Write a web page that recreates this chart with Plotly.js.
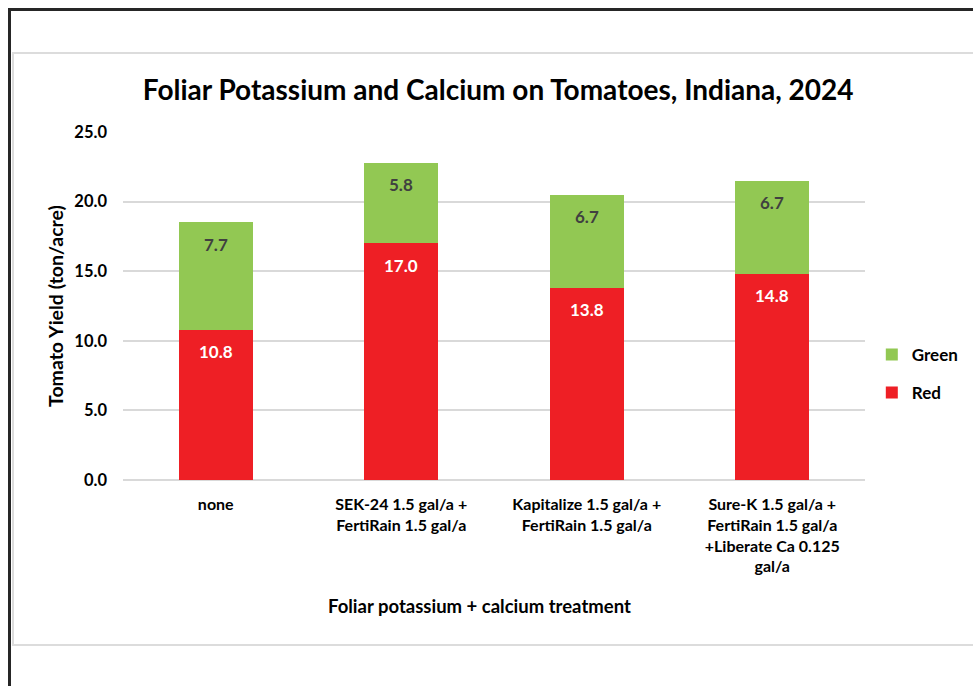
<!DOCTYPE html>
<html>
<head>
<meta charset="utf-8">
<script src="https://cdn.plot.ly/plotly-3.0.1.min.js"></script>
<style>
  html, body { margin: 0; padding: 0; background: #ffffff; }
  #wrap { position: relative; width: 973px; height: 686px; overflow: hidden; background: #ffffff; }
  #outer { position: absolute; left: 8px; top: 8px; width: 1200px; height: 1200px;
           border-left: 3px solid #262626; border-top: 3px solid #262626; box-sizing: border-box; }
  #inner { position: absolute; left: 12px; top: 52px; width: 1200px; height: 594px;
           border: 2px solid #dcdcdc; box-sizing: border-box; }
  #chart { position: absolute; left: 0; top: 0; width: 973px; height: 686px; }
</style>
</head>
<body>
<div id="wrap">
  <div id="outer"></div>
  <div id="inner"></div>
  <div id="chart"></div>
</div>
<script>
// Data
const categories = [
  "none",
  "SEK-24 1.5 gal/a +<br>FertiRain 1.5 gal/a",
  "Kapitalize 1.5 gal/a +<br>FertiRain 1.5 gal/a",
  "Sure-K 1.5 gal/a +<br>FertiRain 1.5 gal/a<br>+Liberate Ca 0.125<br>gal/a"
];
const redValues = [10.8, 17.0, 13.8, 14.8];
const greenValues = [7.7, 5.8, 6.7, 6.7];
const yTickValues = [0, 5, 10, 15, 20, 25];
const yTickLabels = ["0.0", "5.0", "10.0", "15.0", "20.0", "25.0"];

const FONT = "Lato, 'Open Sans', 'DejaVu Sans', sans-serif";

const traces = [
  {
    type: "bar", name: "Red", x: categories, y: redValues,
    marker: { color: "#EE1F25" }, legendgroup: "r", legendrank: 2,
    hoverinfo: "x+y"
  },
  {
    type: "bar", name: "Green", x: categories, y: greenValues,
    marker: { color: "#92C853" }, legendgroup: "g", legendrank: 1,
    hoverinfo: "x+y"
  }
];

// Data labels placed near the top of each stacked segment
const annotations = [];
categories.forEach((c, i) => {
  annotations.push({
    x: c, y: redValues[i], xref: "x", yref: "y", yshift: -22,
    text: redValues[i].toFixed(1), showarrow: false,
    font: { family: FONT, size: 17, color: "#ffffff", weight: "bold" }
  });
  annotations.push({
    x: c, y: redValues[i] + greenValues[i], xref: "x", yref: "y", yshift: -22,
    text: greenValues[i].toFixed(1), showarrow: false,
    font: { family: FONT, size: 17, color: "#404040", weight: "bold" }
  });
});

// Axis titles
annotations.push({
  text: "Foliar potassium + calcium treatment", showarrow: false,
  xref: "paper", yref: "paper", x: 0.481, y: -0.362, xanchor: "center", yanchor: "middle",
  font: { family: FONT, size: 18.5, color: "#000000", weight: "bold" }
});
annotations.push({
  text: "Tomato Yield (ton/acre)", showarrow: false, textangle: -90,
  xref: "paper", yref: "paper", x: -0.0917, y: 0.5, xanchor: "center", yanchor: "middle",
  font: { family: FONT, size: 19.5, color: "#000000", weight: "bold" }
});

const layout = {
  width: 973, height: 686,
  paper_bgcolor: "rgba(0,0,0,0)",
  plot_bgcolor: "rgba(0,0,0,0)",
  margin: { l: 123, r: 108, t: 132, b: 206 },
  barmode: "stack",
  bargap: 0.6,
  font: { family: FONT, color: "#000000" },
  title: {
    text: "Foliar Potassium and Calcium on Tomatoes, Indiana, 2024",
    font: { family: FONT, size: 28, color: "#000000", weight: "bold" },
    x: 0.512, xanchor: "center", y: 0.868, yanchor: "middle"
  },
  xaxis: {
    type: "category",
    tickfont: { family: FONT, size: 16, color: "#000000", weight: "bold" },
    showgrid: false, showline: false, ticks: "",
    ticklabelstandoff: 13
  },
  yaxis: {
    range: [0, 25],
    tickvals: yTickValues, ticktext: yTickLabels,
    tickfont: { family: FONT, size: 16.5, color: "#000000", weight: "bold" },
    showgrid: true, gridcolor: "#d9d9d9", gridwidth: 1.5,
    zeroline: true, zerolinecolor: "#d9d9d9", zerolinewidth: 2,
    showline: false, ticks: "",
    ticklabelstandoff: 15
  },
  legend: {
    xref: "container", yref: "container",
    x: 0.896, xanchor: "left", y: 0.455, yanchor: "middle",
    traceorder: "grouped",
    font: { family: FONT, size: 17, color: "#000000", weight: "bold" },
    itemwidth: 30, tracegroupgap: 13,
    bgcolor: "rgba(0,0,0,0)"
  },
  annotations: annotations,
  showlegend: true
};

Plotly.newPlot("chart", traces, layout, { displayModeBar: false, responsive: false });
</script>
</body>
</html>
